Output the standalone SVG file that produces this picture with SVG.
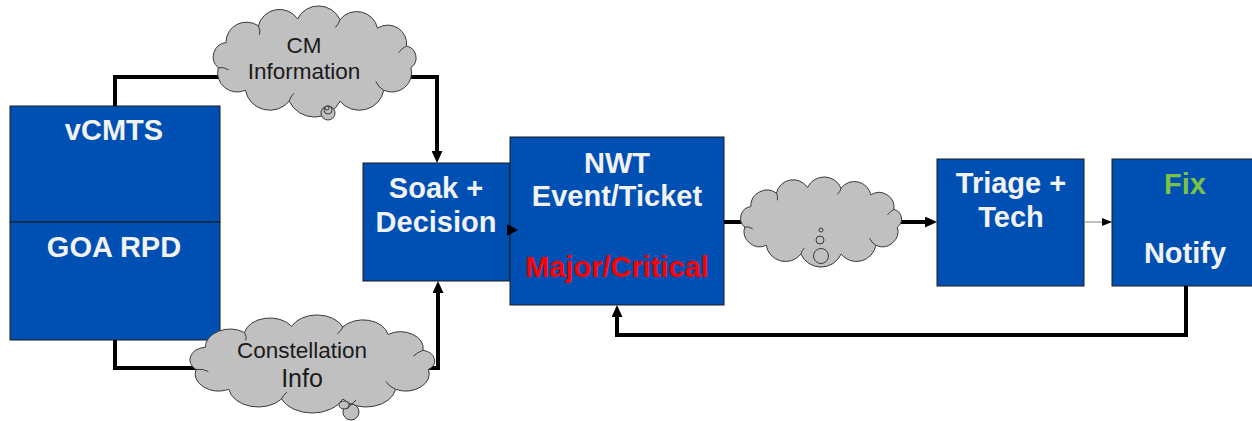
<svg xmlns="http://www.w3.org/2000/svg" xmlns:xlink="http://www.w3.org/1999/xlink" width="1252" height="421" viewBox="0 0 1252 421">
  <style>
    .box { fill: #0050b4; stroke: #1a1a1a; stroke-width: 1; }
    .lbl { font-family: "Liberation Sans", Arial, sans-serif; font-weight: bold; font-size: 29px; fill: #f2f2f2; text-anchor: middle; }
    .cloud { fill: #c0c0c0; stroke: #3a3a3a; stroke-width: 1; }
    .crease { fill: none; stroke: #3a3a3a; stroke-width: 1; }
    .ctext { font-family: "Liberation Sans", Arial, sans-serif; font-size: 22.5px; fill: #1a1a1a; text-anchor: middle; }
    .bubble { fill: #c0c0c0; stroke: #3a3a3a; stroke-width: 1; }
    .wire { fill: none; stroke: #000; stroke-width: 4; }
    .thin { fill: none; stroke: #808080; stroke-width: 1; }
  </style>
  <defs>
    <marker id="arrow" markerUnits="userSpaceOnUse" markerWidth="12" markerHeight="11" refX="4" refY="5.5" orient="auto">
      <path d="M0,0 L12,5.5 L0,11 Z" fill="#000"/>
    </marker>
    <marker id="arrowSmall" markerUnits="userSpaceOnUse" markerWidth="10" markerHeight="8" refX="10" refY="4" orient="auto">
      <path d="M0,0 L10,4 L0,8 Z" fill="#000"/>
    </marker>
    <!-- generic cloud outline in a 200x100 frame, with small inner creases -->
    <g id="cloudShape">
      <path class="cloud" vector-effect="non-scaling-stroke" d="M15.3,56.6 A13,13 0 0 1 22.1,33.9 A18,18 0 0 1 50.6,18.9 A19,19 0 0 1 85,12.6 A20.5,20.5 0 0 1 122.3,13.3 A18.6,18.6 0 0 1 155.3,20.9 A16.6,16.6 0 0 1 180.8,37 A11,11 0 0 1 184.7,56.6 A17.3,17.3 0 0 1 160.8,76.9 A21.8,21.8 0 0 1 122.3,86.7 A24.5,24.5 0 0 1 77.7,86.7 A21.8,21.8 0 0 1 39.2,76.9 A17.3,17.3 0 0 1 15.3,56.6 Z"/>
      <path class="crease" vector-effect="non-scaling-stroke" d="M15.3,56.6 q5,-1 9,2 M50.6,18.9 q2,4 1,8 M122.3,13.3 q-1,4 -4,7 M180.8,37 q-4,2 -7,6 M160.8,76.9 q-5,-3 -7,-8 M77.7,86.7 q1,-4 4,-7"/>
    </g>
  </defs>

  <rect width="1252" height="421" fill="#ffffff"/>

  <!-- process boxes -->
  <g id="vcmts">
    <rect class="box" x="10" y="106" width="210" height="116"/>
    <text class="lbl" x="114" y="140">vCMTS</text>
  </g>
  <g id="goa-rpd">
    <rect class="box" x="10" y="222" width="210" height="118"/>
    <text class="lbl" x="114" y="257">GOA RPD</text>
  </g>
  <g id="soak-decision">
    <rect class="box" x="363" y="163" width="147" height="118"/>
    <text class="lbl" x="436" y="198">Soak +</text>
    <text class="lbl" x="436" y="232">Decision</text>
  </g>
  <g id="nwt-ticket">
    <rect class="box" x="510" y="137" width="214" height="168"/>
    <text class="lbl" x="617" y="173">NWT</text>
    <text class="lbl" x="617" y="206">Event/Ticket</text>
    <text class="lbl" x="617" y="277" style="fill:#ff0000">Major/Critical</text>
  </g>
  <g id="triage-tech">
    <rect class="box" x="937" y="159" width="147" height="127"/>
    <text class="lbl" x="1011" y="193">Triage +</text>
    <text class="lbl" x="1011" y="227">Tech</text>
  </g>
  <g id="fix-notify">
    <rect class="box" x="1112" y="159" width="147" height="127"/>
    <text class="lbl" x="1185" y="194" style="fill:#7cc242">Fix</text>
    <text class="lbl" x="1185" y="263">Notify</text>
  </g>

  <!-- connectors -->
  <g id="connectors">
    <path class="wire" d="M115,106 V77 H437 V155" marker-end="url(#arrow)"/>
    <path class="wire" d="M115,340 V368 H438 V289" marker-end="url(#arrow)"/>
    <path d="M507,224 L518,230 L507,236 Z" fill="#000"/>
    <path class="wire" d="M724,222 H929" marker-end="url(#arrow)"/>
    <path class="thin" d="M1084,222 H1112" marker-end="url(#arrowSmall)"/>
    <path class="wire" d="M1186,286 V335 H617 V313" marker-end="url(#arrow)"/>
  </g>

  <!-- clouds -->
  <g id="cm-information">
    <use xlink:href="#cloudShape" transform="translate(200.9,4.9) scale(1.137,1.11)"/>
    <circle class="bubble" cx="328" cy="113" r="7"/>
    <circle class="bubble" cx="328" cy="110" r="4"/>
    <circle class="bubble" cx="327" cy="108" r="2"/>
    <text class="ctext" x="304" y="53">CM</text>
    <text class="ctext" x="304" y="79">Information</text>
  </g>
  <g id="constellation-info">
    <use xlink:href="#cloudShape" transform="translate(175,314) scale(1.372,0.98)"/>
    <circle class="bubble" cx="351" cy="412" r="8"/>
    <ellipse class="bubble" cx="344" cy="405" rx="5" ry="4"/>
    <path d="M347,409 L356,400" stroke="#3a3a3a" stroke-width="1" fill="none"/>
    <text class="ctext" x="302" y="358">Constellation</text>
    <text class="ctext" x="302" y="387" style="font-size:25px">Info</text>
  </g>
  <g id="transport-cloud">
    <use xlink:href="#cloudShape" transform="translate(730.8,176.1) scale(0.902,0.9)"/>
    <circle class="bubble" cx="821" cy="230" r="2"/>
    <circle class="bubble" cx="820" cy="240" r="4"/>
    <circle class="bubble" cx="821" cy="256" r="7.5"/>
  </g>
</svg>
